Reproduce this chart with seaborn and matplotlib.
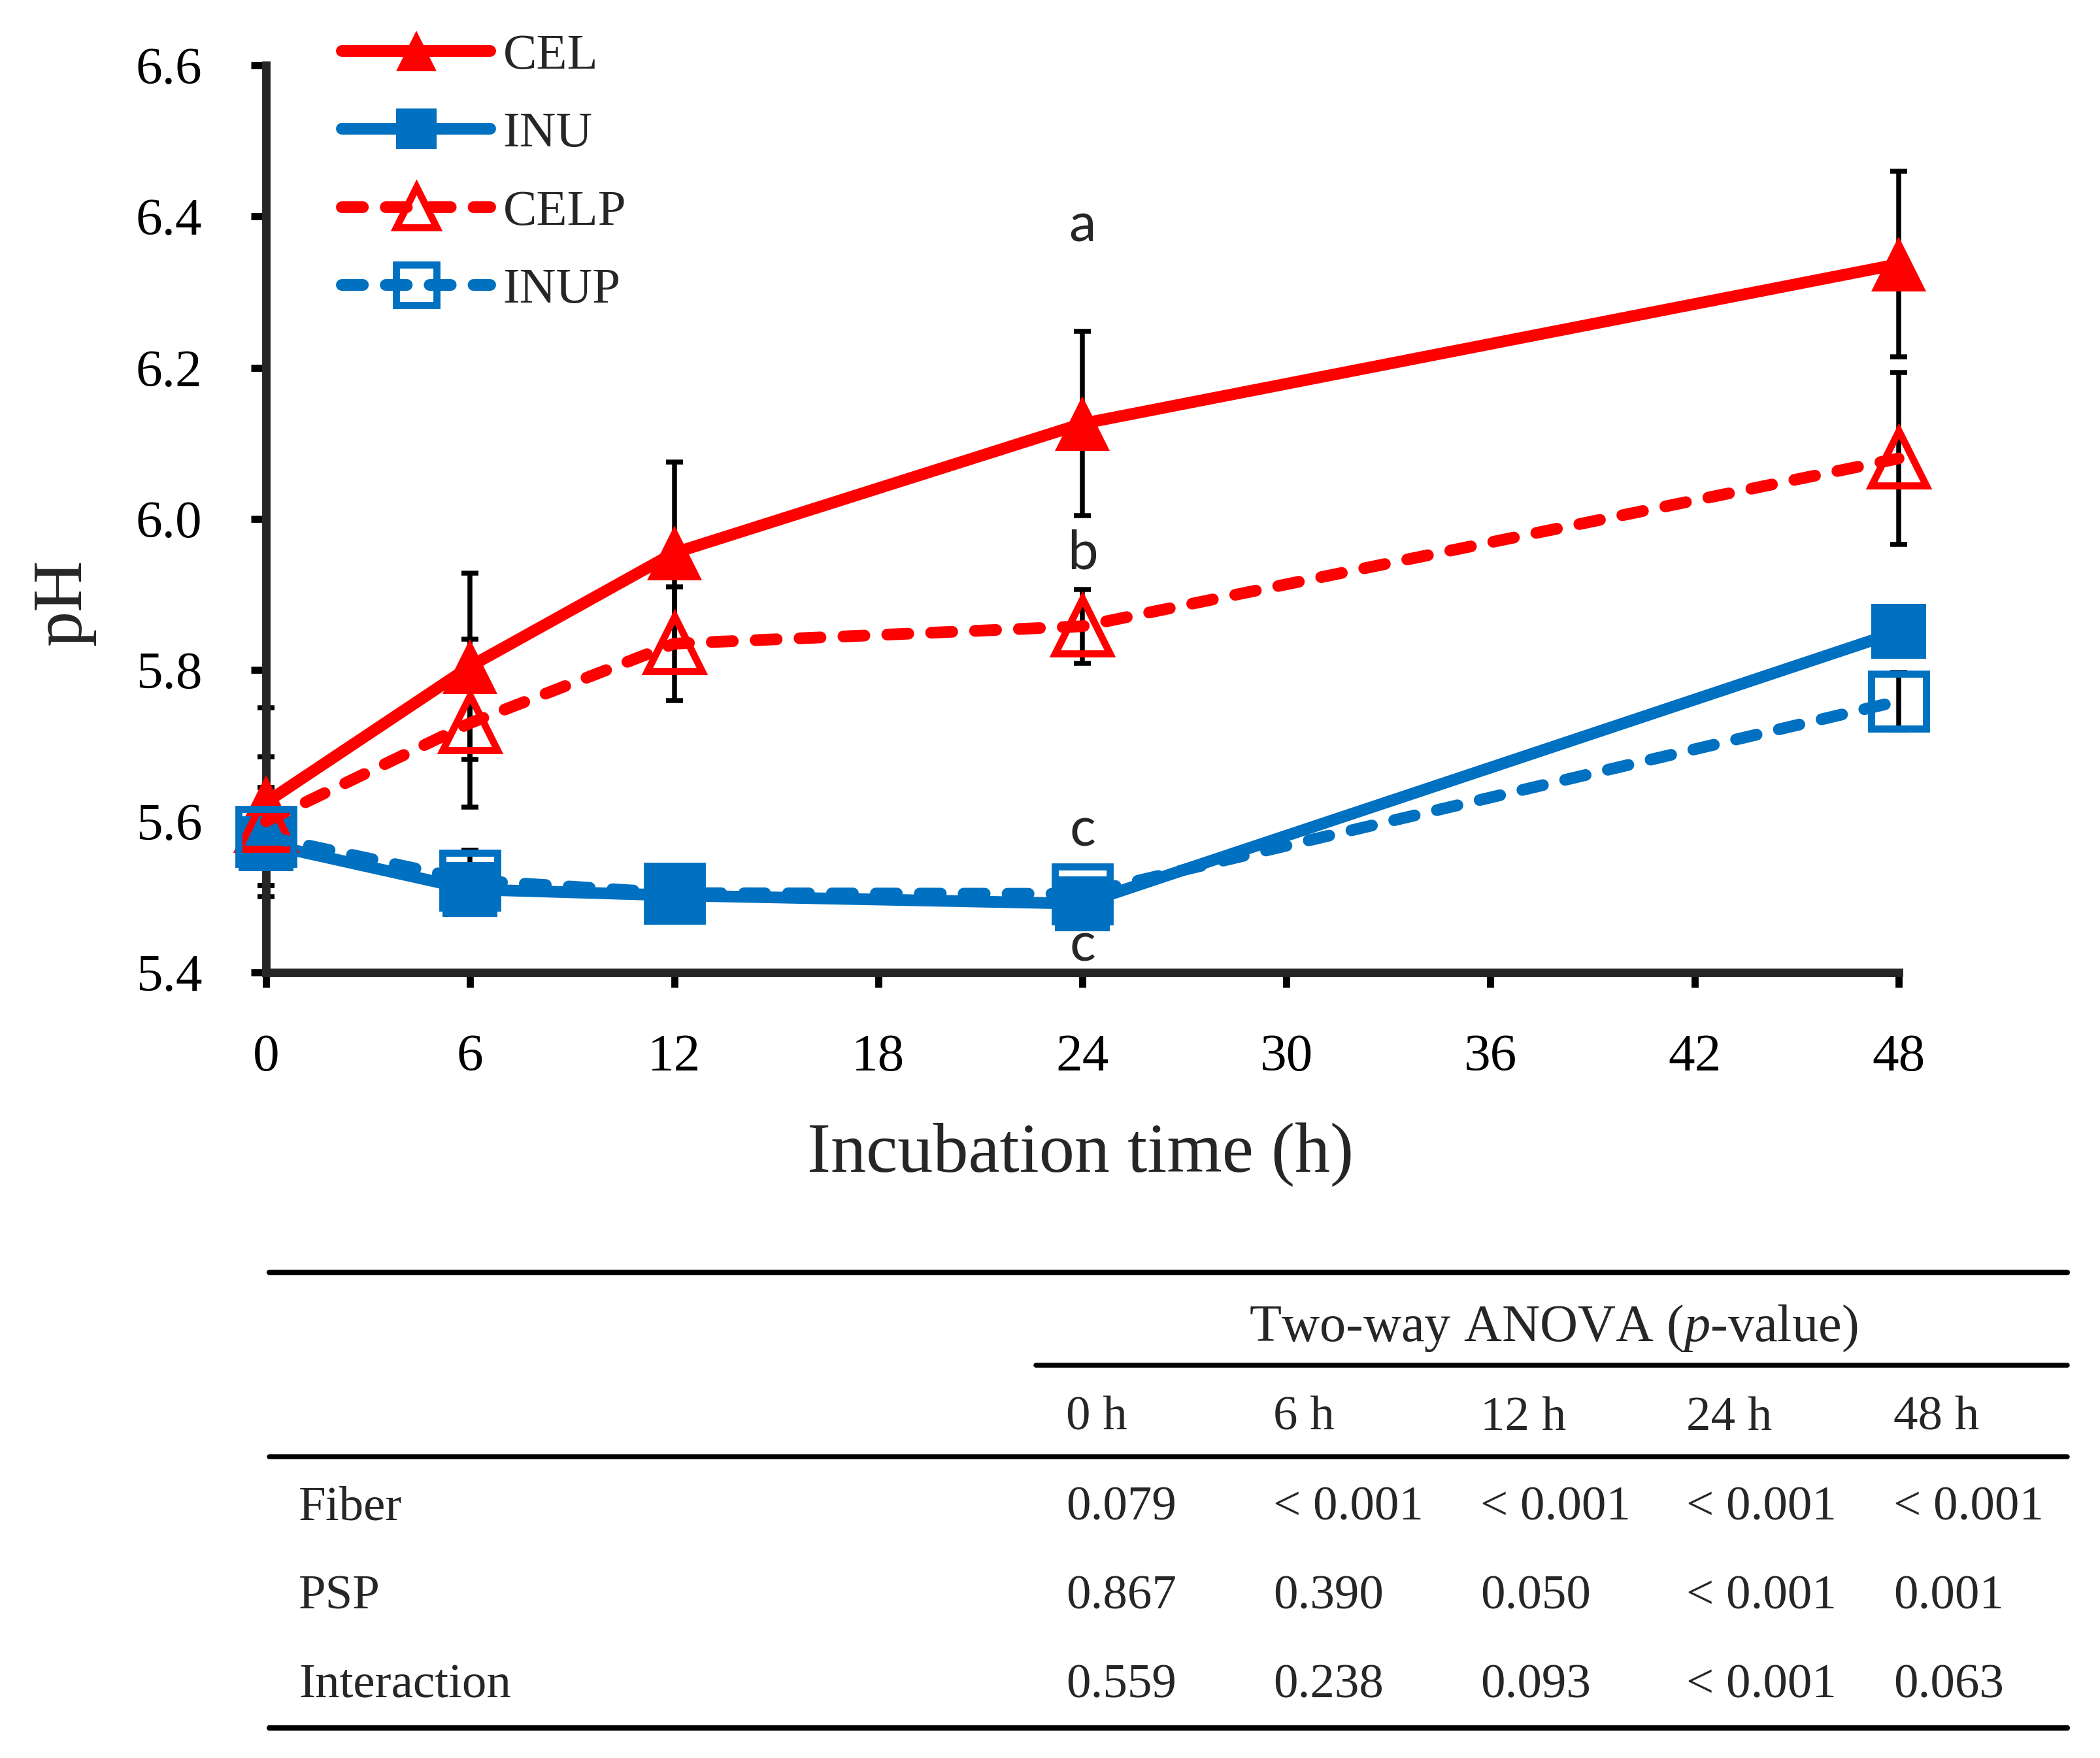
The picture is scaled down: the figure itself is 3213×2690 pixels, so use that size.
import numpy as np
import pandas as pd
import matplotlib as mpl
import matplotlib.pyplot as plt
from matplotlib.lines import Line2D
import seaborn as sns

# pH values
time_h = [0, 6, 12, 24, 48]
groups = ["CEL", "INU", "CELP", "INUP"]
cel = [5.625, 5.805, 5.955, 6.126, 6.337]
cel_err = [0.125, 0.123, 0.12, 0.122, 0.123]
inu = [5.57, 5.51, 5.502, 5.491, 5.851]
inu_err = [0.03, 0.02, 0.02, 0.02, 0.01]
celp = [5.60, 5.73, 5.835, 5.858, 6.08]
celp_err = [0.085, 0.111, 0.075, 0.049, 0.114]
inup = [5.58, 5.522, 5.505, 5.504, 5.759]
inup_err = [0.065, 0.04, 0.02, 0.02, 0.038]

# significance letters at 24 h
letters = ["a", "b", "c", "c"]
letter_y = [6.387, 5.954, 5.587, 5.435]

# two-way ANOVA table
table_cols = ["0 h", "6 h", "12 h", "24 h", "48 h"]
table_rows = ["Fiber", "PSP", "Interaction"]
fiber_p = ["0.079", "< 0.001", "< 0.001", "< 0.001", "< 0.001"]
psp_p = ["0.867", "0.390", "0.050", "< 0.001", "0.001"]
inter_p = ["0.559", "0.238", "0.093", "< 0.001", "0.063"]

values = {"CEL": cel, "INU": inu, "CELP": celp, "INUP": inup}
errors = {"CEL": cel_err, "INU": inu_err, "CELP": celp_err, "INUP": inup_err}

df = pd.DataFrame({
    "time": time_h * len(groups),
    "pH": cel + inu + celp + inup,
    "group": np.repeat(groups, len(time_h)),
})

sns.set_style("ticks")
plt.rcParams["font.family"] = ["Liberation Serif", "DejaVu Serif"]
plt.rcParams["mathtext.fontset"] = "custom"
plt.rcParams["mathtext.rm"] = "Liberation Serif"
plt.rcParams["mathtext.it"] = "Liberation Serif:italic"
plt.rcParams["lines.dash_capstyle"] = "round"

red = "#FF0000"
blue = "#0070C0"
palette = {"CEL": red, "INU": blue, "CELP": red, "INUP": blue}
markers = {"CEL": "^", "INU": "s", "CELP": "^", "INUP": "s"}
dashes = {"CEL": "", "INU": "", "CELP": (1.8, 1.95), "INUP": (1.8, 1.95)}

fig = plt.figure(figsize=(10.71, 8.967), dpi=300)
ax = fig.add_axes([0.1267, 0.4468, 0.7774, 0.516])

sns.lineplot(data=df, x="time", y="pH", hue="group", style="group",
             hue_order=groups, style_order=groups, palette=palette,
             markers=markers, dashes=dashes, markersize=20, linewidth=4.3,
             legend=False, ax=ax, zorder=3, clip_on=False)

lines = list(ax.lines)
for ln, g in zip(lines, groups):
    if g.endswith("P"):
        ln.set_markerfacecolor("none")
        ln.set_markeredgecolor(palette[g])
        ln.set_markeredgewidth(2.6)
    else:
        ln.set_markeredgecolor(palette[g])
        ln.set_markeredgewidth(0)
    ln.set_clip_on(False)

for g in groups:
    eb = ax.errorbar(time_h, values[g], yerr=errors[g], fmt="none", ecolor="black",
                     elinewidth=1.8, capsize=3.2, capthick=1.8, zorder=2)
    for art in eb.lines[1] + eb.lines[2]:
        art.set_clip_on(False)

for lab, yv in zip(letters, letter_y):
    ax.text(24, yv, lab, ha="center", va="center", fontsize=20, family=["Lato", "DejaVu Sans"])

ax.set_xlim(0, 48)
ax.set_ylim(5.4, 6.6)
ax.set_xticks(range(0, 49, 6))
ax.set_yticks(np.arange(5.4, 6.61, 0.2))
ax.set_yticklabels([f"{v:.1f}" for v in np.arange(5.4, 6.61, 0.2)])
sns.despine(ax=ax)
for sp in ["left", "bottom"]:
    ax.spines[sp].set_linewidth(3.1)
ax.tick_params(axis="both", direction="out", length=5.5, width=2.6, labelsize=19.5, colors="black")
ax.tick_params(axis="y", pad=18)
ax.tick_params(axis="x", pad=17)

ax.set_xlabel("Incubation time (h)", fontsize=26, va="center")
ax.xaxis.set_label_coords(0.499, -0.201)
ax.set_ylabel("pH", fontsize=26, va="center", ha="center")
ax.yaxis.set_label_coords(-0.124, 0.408)

leg = ax.legend(handles=lines, labels=groups, loc="upper left",
                bbox_to_anchor=(0.1628, 0.981), bbox_transform=fig.transFigure,
                frameon=False, fontsize=18.5, handlelength=2.95, handletextpad=0.25,
                labelspacing=0.64, borderpad=0, borderaxespad=0, markerscale=0.75)

# table below the chart
W, H = 3213.0, 2690.0

def hline(x0, x1, y, lw):
    fig.add_artist(Line2D([x0 / W, x1 / W], [1 - y / H, 1 - y / H],
                          color="black", linewidth=lw, transform=fig.transFigure))

hline(412, 3163, 1947, 2.0)
hline(1585, 3163, 2089, 1.8)
hline(412, 3163, 2229, 1.8)
hline(412, 3163, 2644, 2.0)

col_x = [1631, 1948, 2265, 2580, 2897]
row_y = [2308, 2444, 2580]
fig.text(2377 / W, 1 - 2033 / H, "Two-way ANOVA ($\\mathit{p}$-value)",
         ha="center", va="center", fontsize=19.3)
for cx, c in zip(col_x, table_cols):
    fig.text(cx / W, 1 - 2170 / H, c, ha="left", va="center", fontsize=18)
for ry, rlab, vals in zip(row_y, table_rows, [fiber_p, psp_p, inter_p]):
    fig.text(457 / W, 1 - ry / H, rlab, ha="left", va="center", fontsize=18)
    for cx, v in zip(col_x, vals):
        fig.text(cx / W, 1 - ry / H, v, ha="left", va="center", fontsize=18)

fig.savefig("out.png", dpi=300, facecolor="white")
